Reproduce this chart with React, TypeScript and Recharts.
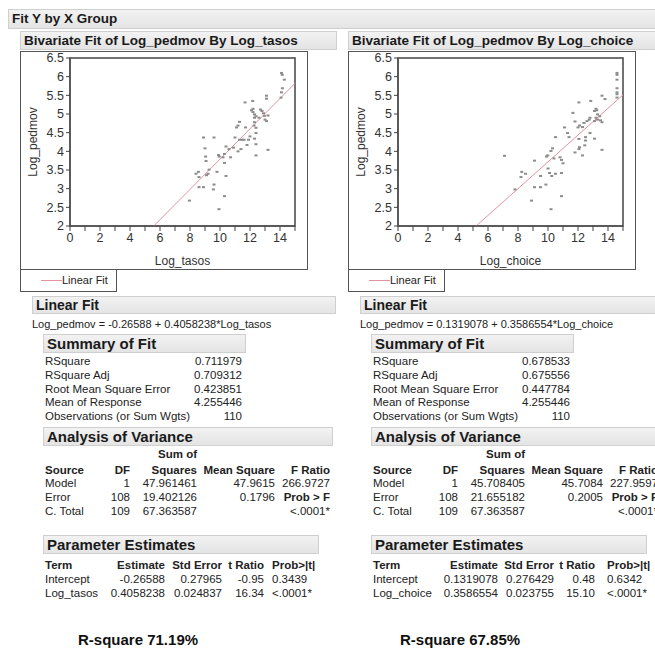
import React from "react";
import { ScatterChart, Scatter, XAxis, YAxis, ReferenceLine, ReferenceArea } from "recharts";

const FONT = '"Liberation Sans", Arial, sans-serif';

// Log_pedmov by Log_tasos
const tasosX = [14.1, 14.15, 14.29, 14.16, 14.1, 14.07, 13.1, 13.1, 11.67, 12.18, 12.2, 12.1, 12.2, 12.7, 12.8, 12.3, 12.4, 12.3, 12.6, 12.9, 12.96, 13.0, 13.1, 13.2, 12.3, 12.27, 12.4, 11.3, 11.2, 11.1, 11.7, 12.4, 12.3, 12.4, 11.3, 11.5, 11.6, 11.9, 12.0, 11.0, 11.8, 11.4, 11.2, 13.2, 12.4, 10.4, 10.6, 10.7, 10.3, 10.2, 9.9, 9.95, 10.9, 8.9, 9.6, 9.0, 9.04, 9.07, 9.27, 9.2, 9.1, 8.4, 8.56, 8.6, 9.8, 10.3, 10.4, 8.6, 8.9, 9.6, 9.56, 10.3, 7.96, 9.93];
const tasosY = [6.1, 6.05, 5.92, 5.69, 5.58, 5.44, 5.49, 5.41, 5.31, 5.35, 5.14, 5.1, 5.05, 5.12, 5.08, 4.99, 4.94, 4.9, 4.9, 5.02, 4.95, 4.85, 4.81, 4.96, 4.78, 4.69, 4.63, 4.79, 4.69, 4.64, 4.64, 4.49, 4.34, 4.19, 4.31, 4.31, 4.31, 4.31, 4.4, 4.37, 4.17, 4.06, 4.0, 4.04, 3.89, 4.13, 4.06, 3.84, 3.93, 3.84, 3.9, 3.86, 4.1, 4.37, 4.37, 4.08, 3.86, 3.74, 3.51, 3.4, 3.36, 3.4, 3.45, 3.31, 3.45, 3.69, 3.34, 3.04, 3.04, 3.11, 2.98, 2.8, 2.68, 2.45];

// Log_pedmov by Log_choice
const choiceX = [14.6, 14.6, 14.6, 14.6, 14.6, 14.6, 14.6, 13.6, 13.8, 12.06, 12.85, 11.66, 13.2, 13.25, 13.1, 13.3, 13.45, 13.2, 13.5, 13.3, 13.6, 13.1, 12.8, 12.75, 12.6, 12.4, 11.8, 12.1, 12.3, 12.0, 11.1, 11.3, 11.4, 12.8, 12.06, 12.5, 12.5, 12.45, 12.1, 12.06, 11.8, 12.3, 13.1, 13.6, 10.5, 10.3, 10.2, 9.98, 9.9, 10.4, 10.8, 10.9, 11.0, 7.1, 9.1, 10.0, 10.1, 10.25, 10.5, 9.5, 8.25, 8.5, 8.2, 10.9, 9.86, 9.1, 9.5, 10.9, 8.9, 10.2, 7.8];
const choiceY = [6.1, 6.05, 5.92, 5.69, 5.58, 5.53, 5.44, 5.49, 5.4, 5.31, 5.35, 5.03, 5.14, 5.1, 5.08, 4.99, 4.94, 4.9, 4.83, 4.85, 4.78, 4.81, 4.9, 4.85, 4.81, 4.76, 4.8, 4.69, 4.65, 4.64, 4.64, 4.49, 4.38, 4.49, 4.33, 4.38, 4.29, 4.16, 4.11, 4.06, 3.97, 3.89, 4.34, 4.04, 4.38, 4.08, 4.01, 3.89, 3.86, 3.81, 3.84, 3.77, 3.68, 3.88, 3.75, 3.54, 3.42, 3.34, 3.4, 3.34, 3.45, 3.4, 3.31, 3.42, 3.11, 3.04, 3.04, 2.8, 2.68, 2.45, 2.98];

const xTicks = [0, 1, 2, 3, 4, 5, 6, 7, 8, 9, 10, 11, 12, 13, 14, 15];
const yTicks = [2, 2.5, 3, 3.5, 4, 4.5, 5, 5.5, 6, 6.5];

// intercept, slope
const tasosFit = [-0.26588, 0.4058238];
const choiceFit = [0.1319078, 0.3586554];

const summaryLabels = ["RSquare", "RSquare Adj", "Root Mean Square Error", "Mean of Response", "Observations (or Sum Wgts)"];
const tasosSummary = ["0.711979", "0.709312", "0.423851", "4.255446", "110"];
const choiceSummary = ["0.678533", "0.675556", "0.447784", "4.255446", "110"];

const anovaSources = ["Model", "Error", "C. Total"];
const anovaDF = ["1", "108", "109"];
const tasosSS = ["47.961461", "19.402126", "67.363587"];
const choiceSS = ["45.708405", "21.655182", "67.363587"];
const tasosMS = ["47.9615", "0.1796", ""];
const choiceMS = ["45.7084", "0.2005", ""];
const tasosF = ["266.9727", "Prob > F", "<.0001*"];
const choiceF = ["227.9597", "Prob > F", "<.0001*"];

const paramHead = ["Term", "Estimate", "Std Error", "t Ratio", "Prob>|t|"];
const tasosParams = [
  ["Intercept", "-0.26588", "0.27965", "-0.95", "0.3439"],
  ["Log_tasos", "0.4058238", "0.024837", "16.34", "<.0001*"],
];
const choiceParams = [
  ["Intercept", "0.1319078", "0.276429", "0.48", "0.6342"],
  ["Log_choice", "0.3586554", "0.023755", "15.10", "<.0001*"],
];

const bar: React.CSSProperties = {
  position: "absolute",
  background: "linear-gradient(#f2f2f2, #e4e4e4)",
  border: "1px solid #cfcfcf",
  boxSizing: "border-box",
  fontWeight: "bold",
  color: "#1a1a1a",
  paddingLeft: 3,
  whiteSpace: "nowrap",
  overflow: "hidden",
};

function T({ x, y, right, bold, size = 11.5, children }: any) {
  const style: React.CSSProperties = {
    position: "absolute",
    top: y - 8,
    height: 16,
    lineHeight: "16px",
    fontSize: size,
    fontWeight: bold ? "bold" : "normal",
    whiteSpace: "nowrap",
    color: "#222",
  };
  if (right) {
    style.left = x - 200;
    style.width = 200;
    style.textAlign = "right";
  } else {
    style.left = x;
  }
  return <div style={style}>{children}</div>;
}

function Dot(props: any) {
  const { cx, cy } = props;
  return <rect x={cx - 1.5} y={cy - 1} width={3} height={2} fill="#8c8c8c" />;
}

function Plot({ xs, ys, fit, xName }: any) {
  const data = xs.map((x: number, i: number) => ({ x, y: ys[i] }));
  const [b, m] = fit;
  const x0 = (2 - b) / m;
  return (
    <ScatterChart width={286} height={217} margin={{ top: 6, right: 12, bottom: 0, left: 0 }}>
      <XAxis
        type="number"
        dataKey="x"
        domain={[0, 15]}
        ticks={xTicks}
        interval={0}
        tickFormatter={(v: number) => (v % 2 === 0 && v < 15 ? String(v) : "")}
        tick={{ fontSize: 12.5, fill: "#333", fontFamily: FONT }}
        stroke="#444"
        tickSize={5}
        height={43}
        label={{ value: xName, position: "insideBottom", offset: 4, fontSize: 12, fill: "#333", fontFamily: FONT }}
      />
      <YAxis
        type="number"
        dataKey="y"
        domain={[2, 6.5]}
        ticks={yTicks}
        interval={0}
        tick={{ fontSize: 12.5, fill: "#333", fontFamily: FONT }}
        stroke="#444"
        tickSize={4}
        width={49}
        label={{
          content: (p: any) => {
            const vb = p.viewBox || { y: 6, height: 168 };
            const cy = vb.y + vb.height / 2;
            return (
              <text x={12} y={cy} transform={`rotate(-90 12 ${cy})`} textAnchor="middle" dominantBaseline="central" fontSize={12} fill="#333" fontFamily={FONT}>
                Log_pedmov
              </text>
            );
          },
        }}
      />
      <ReferenceArea x1={0} x2={15} y1={2} y2={6.5} fill="none" stroke="#444" strokeWidth={1.5} ifOverflow="visible" />
      <Scatter data={data} shape={<Dot />} isAnimationActive={false} />
      <ReferenceLine
        segment={[{ x: x0, y: 2 }, { x: 15, y: b + m * 15 }]}
        stroke="#e2939f"
        strokeWidth={1}
        ifOverflow="visible"
      />
    </ScatterChart>
  );
}

function Panel({ ox, xName, xs, ys, fit, summary, ss, ms, fr, params, pcols, headW }: any) {
  const [b, m] = fit;
  const sign = b < 0 ? "-" : "";
  return (
    <>
      <div style={{ ...bar, left: 20 + ox, top: 31, width: headW, height: 19, fontSize: 13.5, lineHeight: "17px" }}>
        Bivariate Fit of Log_pedmov By {xName}
      </div>
      <div style={{ position: "absolute", left: 20 + ox, top: 51, width: 288, height: 219, border: "1px solid #555", boxSizing: "border-box" }}>
        <Plot xs={xs} ys={ys} fit={fit} xName={xName} />
      </div>
      <div style={{ position: "absolute", left: 20 + ox, top: 269, width: 97, height: 23, border: "1px solid #555", boxSizing: "border-box" }}>
        <div style={{ position: "absolute", left: 20, top: 10, width: 21, height: 1, background: "#e2939f" }} />
        <div style={{ position: "absolute", left: 41, top: 2, fontSize: 11, lineHeight: "16px", color: "#222" }}>Linear Fit</div>
      </div>

      <div style={{ ...bar, left: 32 + ox, top: 296, width: ox ? 300 : 304, height: 18, fontSize: 14, lineHeight: "16px" }}>Linear Fit</div>
      <T x={32 + ox} y={324} size={11}>
        Log_pedmov = {sign}{Math.abs(b)} + {m}*{xName}
      </T>

      <div style={{ ...bar, left: 43 + ox, top: 334, width: 203, height: 19, fontSize: 15, lineHeight: "17px" }}>Summary of Fit</div>
      {summaryLabels.map((l, i) => (
        <React.Fragment key={l}>
          <T x={45 + ox} y={361 + i * 13.8}>{l}</T>
          <T x={242 + ox} y={361 + i * 13.8} right>{summary[i]}</T>
        </React.Fragment>
      ))}

      <div style={{ ...bar, left: 43 + ox, top: 427, width: 290, height: 19, fontSize: 15, lineHeight: "17px" }}>Analysis of Variance</div>
      <T x={197 + ox} y={454} right bold>Sum of</T>
      <T x={45 + ox} y={470} bold>Source</T>
      <T x={130 + ox} y={470} right bold>DF</T>
      <T x={197 + ox} y={470} right bold>Squares</T>
      <T x={275 + ox} y={470} right bold>Mean Square</T>
      <T x={330 + ox} y={470} right bold>F Ratio</T>
      {anovaSources.map((s, i) => (
        <React.Fragment key={s}>
          <T x={45 + ox} y={483 + i * 14}>{s}</T>
          <T x={130 + ox} y={483 + i * 14} right>{anovaDF[i]}</T>
          <T x={197 + ox} y={483 + i * 14} right>{ss[i]}</T>
          <T x={275 + ox} y={483 + i * 14} right>{ms[i]}</T>
          <T x={330 + ox} y={483 + i * 14} right bold={i === 1}>{fr[i]}</T>
        </React.Fragment>
      ))}

      <div style={{ ...bar, left: 43 + ox, top: 535, width: 276, height: 19, fontSize: 15, lineHeight: "17px" }}>Parameter Estimates</div>
      {[paramHead, ...params].map((row: string[], r: number) => (
        <React.Fragment key={r}>
          <T x={45 + ox} y={565 + r * 14} bold={r === 0}>{row[0]}</T>
          <T x={pcols[0] + ox} y={565 + r * 14} right bold={r === 0}>{row[1]}</T>
          <T x={pcols[1] + ox} y={565 + r * 14} right bold={r === 0}>{row[2]}</T>
          <T x={pcols[2] + ox} y={565 + r * 14} right bold={r === 0}>{row[3]}</T>
          <T x={pcols[3] + ox} y={565 + r * 14} bold={r === 0}>{row[4]}</T>
        </React.Fragment>
      ))}
    </>
  );
}

export default function App() {
  return (
    <div
      style={{
        position: "absolute",
        left: 0,
        top: 0,
        width: 655,
        height: 652,
        overflow: "hidden",
        background: "#fff",
        fontFamily: FONT,
      }}
    >
      <div style={{ ...bar, left: 8, top: 9, width: 660, height: 20, fontSize: 13.5, lineHeight: "18px" }}>Fit Y by X Group</div>
      <Panel ox={0} xName="Log_tasos" xs={tasosX} ys={tasosY} fit={tasosFit} summary={tasosSummary} ss={tasosSS} ms={tasosMS} fr={tasosF} params={tasosParams} pcols={[165, 222, 264, 272]} headW={317} />
      <Panel ox={328} xName="Log_choice" xs={choiceX} ys={choiceY} fit={choiceFit} summary={choiceSummary} ss={choiceSS} ms={choiceMS} fr={choiceF} params={choiceParams} pcols={[170, 226, 267, 279]} headW={320} />
      <div style={{ position: "absolute", left: 78, top: 631, fontSize: 15, fontWeight: "bold", color: "#111", lineHeight: "18px" }}>R-square 71.19%</div>
      <div style={{ position: "absolute", left: 400, top: 631, fontSize: 15, fontWeight: "bold", color: "#111", lineHeight: "18px" }}>R-square 67.85%</div>
    </div>
  );
}
